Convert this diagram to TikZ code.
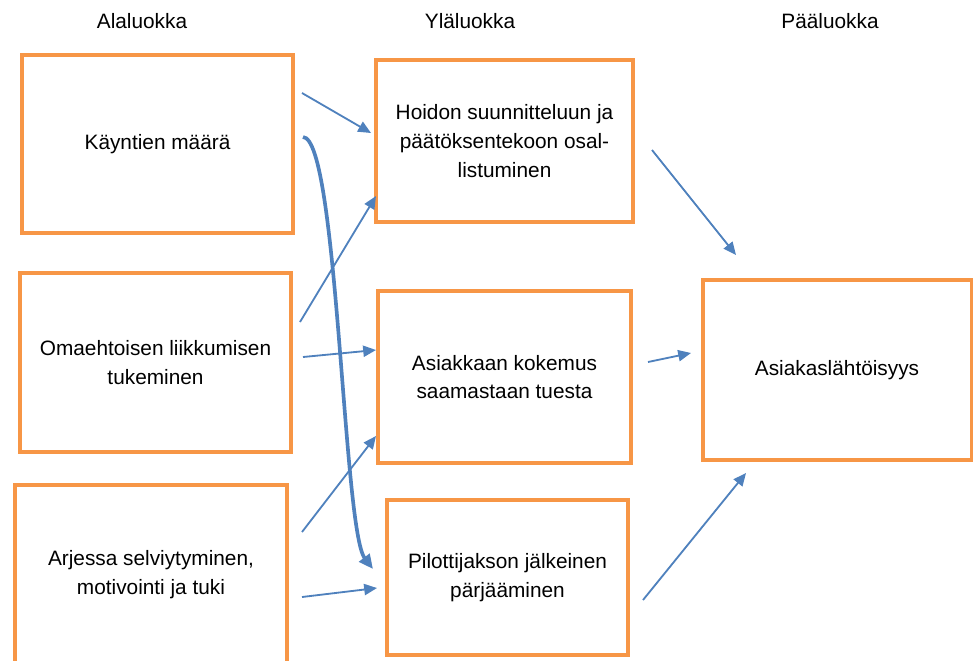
\documentclass[tikz,border=0pt]{standalone}
\usepackage{fontspec}
\setmainfont{Liberation Sans}
\usetikzlibrary{arrows.meta}
\definecolor{boxorange}{RGB}{247,150,70}
\definecolor{arrowblue}{RGB}{79,129,189}

\begin{document}
\begin{tikzpicture}[x=0.025cm, y=-0.025cm,
		category/.style={rectangle, draw=boxorange, line width=2.2pt, align=center, text centered, font=\fontsize{14.8}{20.5}\selectfont},
		heading/.style={font=\fontsize{14.8}{18}\selectfont},
		link/.style={-{Triangle[length=0.32cm, width=0.28cm]}, arrowblue, line width=1.3pt},
		bigLink/.style={-{Triangle[length=0.36cm, width=0.32cm]}, arrowblue, line width=2.6pt}]
		
		\useasboundingbox (0,0) rectangle (973,660);
		
		%Headings
		\node (lowHead) at (142,21) [heading]{Alaluokka};
		\node (upHead) at (470,21) [heading]{Yläluokka};
		\node (mainHead) at (830,21) [heading]{Pääluokka};
		
		%Sub categories
		\node (visits) at (157.5,144) [category, minimum width=6.775cm, minimum height=4.45cm]{Käyntien määrä};
		\node (movement) at (155.5,362.5) [category, minimum width=6.775cm, minimum height=4.475cm]{Omaehtoisen liikkumisen\\tukeminen};
		\node (everyday) at (151,575) [category, minimum width=6.8cm, minimum height=4.5cm]{Arjessa selviytyminen,\\motivointi ja tuki};
		
		%Upper categories
		\node (planning) at (504.5,141) [category, minimum width=6.425cm, minimum height=4.05cm]{Hoidon suunnitteluun ja\\päätöksentekoon osal-\\listuminen};
		\node (experience) at (504.5,377) [category, minimum width=6.325cm, minimum height=4.3cm]{Asiakkaan kokemus\\saamastaan tuesta};
		\node (coping) at (507.5,577.5) [category, minimum width=6.025cm, minimum height=3.875cm]{Pilottijakson jälkeinen\\pärjääminen};
		
		%Main category
		\node (clientCentred) at (837,370) [category, minimum width=6.7cm, minimum height=4.5cm]{Asiakaslähtöisyys};
		
		%Arrow ends
		\coordinate (visitsOut) at (302,93);
		\coordinate (visitsBend) at (303,137);
		\coordinate (movementOutA) at (300,322);
		\coordinate (movementOutB) at (303,357);
		\coordinate (everydayOutA) at (302,532);
		\coordinate (everydayOutB) at (302,597);
		\coordinate (planningIn) at (371,133);
		\coordinate (planningInB) at (376,196);
		\coordinate (experienceIn) at (376,350);
		\coordinate (experienceInB) at (376,436);
		\coordinate (copingIn) at (377,588);
		\coordinate (copingInB) at (373,569);
		\coordinate (planningOut) at (652,150);
		\coordinate (experienceOut) at (648,362);
		\coordinate (copingOut) at (643,600);
		\coordinate (clientInA) at (736,255);
		\coordinate (clientInB) at (691,353);
		\coordinate (clientInC) at (746,473);
		
		%Lines
		\draw[link] (visitsOut) -- (planningIn);
		\draw[link] (movementOutA) -- (planningInB);
		\draw[link] (movementOutB) -- (experienceIn);
		\draw[link] (everydayOutA) -- (experienceInB);
		\draw[link] (everydayOutB) -- (copingIn);
		\draw[bigLink] (visitsBend) .. controls (338,138) and (343,530) .. (copingInB);
		
		\draw[link] (planningOut) -- (clientInA);
		\draw[link] (experienceOut) -- (clientInB);
		\draw[link] (copingOut) -- (clientInC);
		
		\end{tikzpicture}
\end{document}
